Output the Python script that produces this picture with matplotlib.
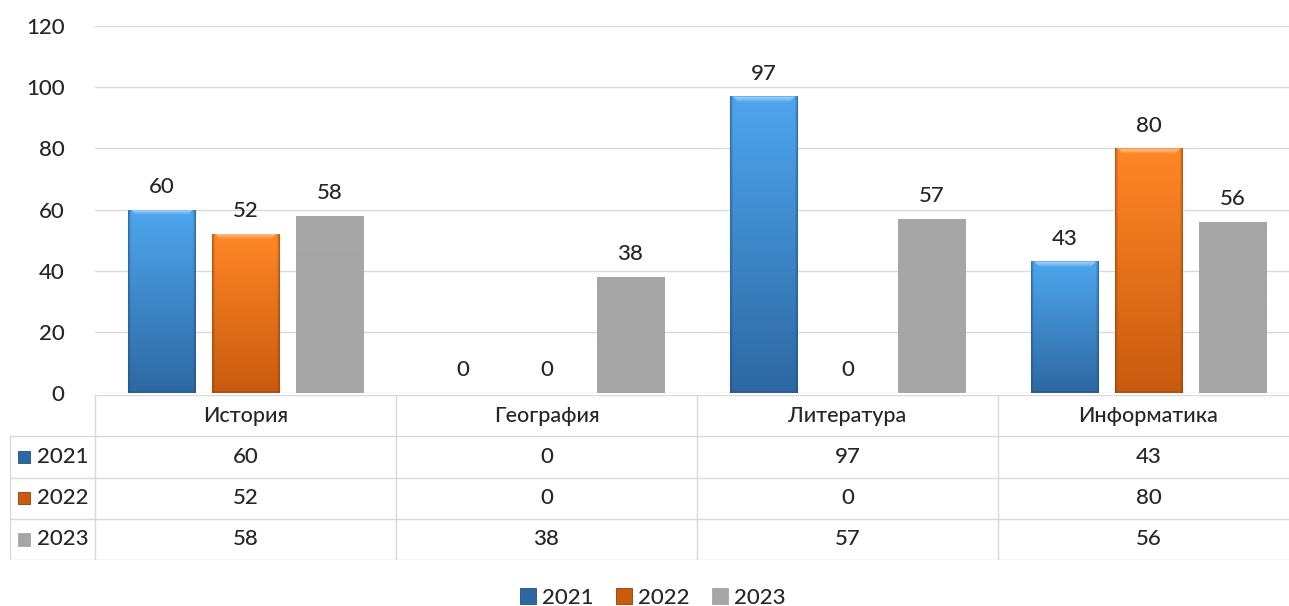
import numpy as np
import matplotlib
matplotlib.use("Agg")
import matplotlib.pyplot as plt
from matplotlib.patches import Rectangle
from matplotlib.colors import to_rgb

plt.rcParams['font.family'] = ['Lato', 'DejaVu Sans']
plt.rcParams['font.weight'] = 'medium'

subjects = ['История', 'География', 'Литература', 'Информатика']
years = ['2021', '2022', '2023']
vals_2021 = [60, 0, 97, 43]
vals_2022 = [52, 0, 0, 80]
vals_2023 = [58, 38, 57, 56]
series = [vals_2021, vals_2022, vals_2023]
yticks = [0, 20, 40, 60, 80, 100, 120]

# (top, bottom, edge) colours for each series
grads = [('#4ea6ee', '#2d68a2', '#1f4f80'),
         ('#ff8726', '#c95a0e', '#8f3e08'),
         ('#a6a6a6', '#a6a6a6', '#a6a6a6')]
txt = '#262626'
grid_c = '#d9d9d9'
fs = 16

W, H = 1289, 606
fig = plt.figure(figsize=(W / 100, H / 100), dpi=100)

# main axes: x from 95 to 1299 px, y from 393 (0) to 26 (120)
ax = fig.add_axes([95 / W, (H - 393) / H, (1299 - 95) / W, (393 - 26) / H])
ax.set_xlim(-0.5, 3.5)
ax.set_ylim(0, 120)
ax.set_yticks(yticks)
ax.set_xticks([])
ax.tick_params(axis='y', length=0, pad=22, labelsize=fs, labelcolor=txt)
ax.grid(axis='y', color=grid_c, lw=1)
ax.set_axisbelow(True)
for s in ax.spines.values():
    s.set_visible(False)


def grad_img(v, top, bot, edge, flat):
    n, m = max(int(v * 3.06), 8), 68
    t = np.linspace(0, 1, n)[:, None, None]
    c1 = np.array(to_rgb(top))
    c2 = np.array(to_rgb(bot))
    img = c1 * (1 - t) + c2 * t
    img = np.repeat(img, m, axis=1)
    if not flat:
        e = np.array(to_rgb(edge))
        for k, a in enumerate([0.6, 0.35, 0.15]):
            img[:, k] = img[:, k] * (1 - a) + e * a
            img[:, -1 - k] = img[:, -1 - k] * (1 - a) + e * a
        for k, a in enumerate([0.15, 0.4, 0.35, 0.25, 0.15, 0.07]):
            img[k, 3 + k:-3 - k] = img[k, 3 + k:-3 - k] * (1 - a) + a
        img[-2:] = img[-2:] * 0.7 + e * 0.3
    return img


bw = 0.225
step = 0.279
x = np.arange(len(subjects))
for i, vals in enumerate(series):
    top, bot, edge = grads[i]
    flat = (i == 2)
    for j, v in enumerate(vals):
        xc = x[j] + (i - 1) * step
        if v > 0:
            bars = ax.bar(xc, v, bw, color=top, edgecolor='none', zorder=2)
            img = grad_img(v, top, bot, edge, flat)
            im = ax.imshow(img, extent=(xc - bw / 2, xc + bw / 2, 0, v),
                           aspect='auto', zorder=3, interpolation='bilinear')
            im.set_clip_path(bars[0])
        ax.annotate(str(v), (xc, v), xytext=(0, 9), textcoords='offset points',
                    ha='center', va='bottom', fontsize=fs, color=txt)

# data table below the plot
tax = fig.add_axes([10 / W, (H - 560) / H, (1299 - 10) / W, (560 - 395) / H])
lab_w = 85 / 301
tax.set_xlim(-0.5 - lab_w, 3.5)
tax.set_ylim(4, 0)
tax.axis('off')
tax.plot([-0.5, 3.5], [0, 0], color=grid_c, lw=1)
for r in range(1, 5):
    tax.plot([-0.5 - lab_w, 3.5], [r, r], color=grid_c, lw=1)
tax.plot([-0.5 - lab_w, -0.5 - lab_w], [1, 4], color=grid_c, lw=1)
for c in range(4):
    tax.plot([c - 0.5, c - 0.5], [0, 4], color=grid_c, lw=1)
for j, s in enumerate(subjects):
    tax.text(j, 0.5, s, ha='center', va='center', fontsize=fs - 0.5, color=txt)
for i, vals in enumerate(series):
    tax.add_patch(Rectangle((-0.5 - lab_w + 8 / 301, i + 1.5 - 0.15), 12 / 301, 0.3,
                            facecolor=grads[i][0] if i == 2 else grads[i][1],
                            edgecolor=grads[i][2], lw=0.6))
    tax.text(-0.5 - lab_w + 27 / 301, i + 1.5, years[i], ha='left', va='center',
             fontsize=fs, color=txt)
    for j, v in enumerate(vals):
        tax.text(j, i + 1.5, str(v), ha='center', va='center', fontsize=fs, color=txt)

# legend
handles = [Rectangle((0, 0), 1, 1, facecolor=(grads[i][0] if i == 2 else grads[i][1]),
                     edgecolor=grads[i][2], lw=0.6) for i in range(3)]
fig.legend(handles, years, loc='center', bbox_to_anchor=(653 / W, 8 / H), ncol=3,
           frameon=False, fontsize=fs, handlelength=0.7, handleheight=0.7,
           handletextpad=0.3, columnspacing=1.0, labelcolor=txt)

fig.savefig('out.png', dpi=100)
